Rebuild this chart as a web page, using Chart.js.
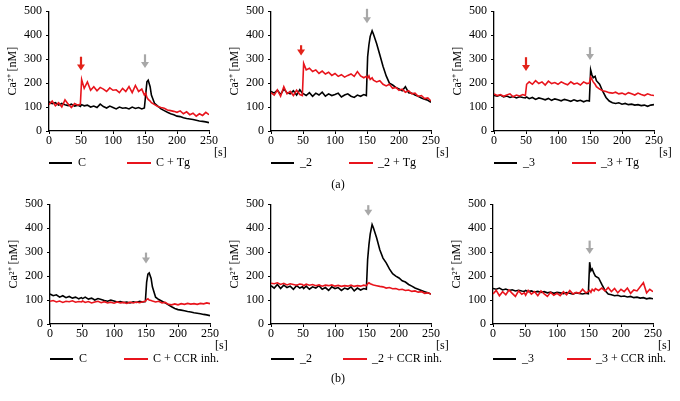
<!DOCTYPE html>
<html>
<head>
<meta charset="utf-8">
<script src="https://cdn.jsdelivr.net/npm/chart.js@4.4.1/dist/chart.umd.min.js"></script>
<style>
  body { margin: 0; background: #fff; }
  #wrap { position: relative; width: 680px; height: 401px; font-family: "Liberation Serif", "Times New Roman", serif; }
  .panel { position: absolute; width: 231px; height: 180px; }
  .cap { position: absolute; font-size: 12px; width: 40px; text-align: center; }
</style>
</head>
<body>
<div id="wrap">
  <div class="panel" style="left:0px;top:0px"><canvas id="p1" width="231" height="180"></canvas></div>
  <div class="panel" style="left:222px;top:0px"><canvas id="p2" width="231" height="180"></canvas></div>
  <div class="panel" style="left:445px;top:0px"><canvas id="p3" width="231" height="180"></canvas></div>
  <div class="panel" style="left:1px;top:193px"><canvas id="p4" width="231" height="180"></canvas></div>
  <div class="panel" style="left:222px;top:193px"><canvas id="p5" width="231" height="180"></canvas></div>
  <div class="panel" style="left:444px;top:193px"><canvas id="p6" width="231" height="180"></canvas></div>
  <div class="cap" style="left:318px;top:177px">(a)</div>
  <div class="cap" style="left:318px;top:371px">(b)</div>
</div>
<script>
// time [s]
const TIME = [0,5,10,15,20,25,30,35,40,45,49,51,55,60,65,70,75,80,85,90,95,100,105,110,115,120,125,130,135,140,145,149,151,153,155,158,160,165,170,175,180,185,190,195,200,205,210,215,220,225,230,235,240,245,250];

// (a) thapsigargin
const C_CTRL = [122,114,118,108,115,110,106,112,104,108,102,110,105,108,100,104,98,112,102,96,104,98,92,100,95,97,92,100,94,98,92,96,150,205,212,185,150,115,104,92,85,78,72,68,62,60,55,52,50,48,45,42,40,38,35];
const C_TG = [110,125,105,118,100,130,112,98,115,108,112,215,178,205,170,185,168,182,175,165,180,170,172,160,178,165,185,160,190,165,175,150,158,140,132,125,118,110,102,98,95,88,85,82,78,84,72,80,68,74,62,72,65,78,68];
const S2_CTRL = [165,158,170,152,175,160,155,168,150,172,158,155,148,160,145,158,150,162,145,155,148,152,158,142,150,155,145,140,150,145,152,148,310,360,395,418,405,365,318,270,230,200,192,182,175,168,185,160,158,150,145,138,132,128,120];
const S2_TG = [160,150,172,145,185,155,165,148,170,152,148,282,255,262,248,255,240,250,238,245,232,240,228,235,225,232,238,228,248,230,222,228,220,230,215,222,212,205,210,195,188,195,178,182,170,175,162,168,155,158,145,148,135,138,125];
const S3_CTRL = [148,145,150,142,146,140,144,138,143,140,138,142,135,140,132,138,135,130,136,128,134,130,126,132,128,124,130,125,128,122,127,125,255,235,222,228,210,195,165,140,125,118,115,118,112,115,110,112,108,110,106,108,103,108,110];
const S3_TG = [155,148,152,145,150,155,143,150,146,152,148,195,205,195,210,198,205,192,208,198,202,195,205,198,193,205,196,200,192,205,198,200,225,215,205,195,185,175,168,165,160,158,162,155,158,152,160,155,150,158,152,148,155,150,148];

// (b) CCR inhibitor
const C_CTRL_B = [125,118,122,112,118,110,115,108,112,105,110,106,112,104,108,100,106,102,98,95,100,96,92,94,90,92,88,93,90,95,92,94,175,208,213,190,155,112,102,95,88,80,72,65,60,58,55,52,50,47,45,43,40,38,35];
const C_CCR = [95,98,92,96,90,95,93,97,91,94,92,96,90,94,88,92,95,89,93,88,91,87,92,88,90,86,91,88,92,89,93,95,102,105,100,98,96,92,95,88,90,82,80,84,80,85,82,86,83,85,82,86,84,88,85];
const S2_CTRL_B = [160,150,165,148,162,152,158,145,160,150,155,148,158,145,155,150,160,145,152,140,155,148,152,140,150,145,155,138,150,142,148,145,270,330,375,415,402,360,310,275,255,230,210,200,192,180,175,165,158,150,145,140,135,130,125];
const S2_CCR = [170,168,172,165,170,163,168,165,162,167,165,160,166,162,165,160,163,158,162,160,163,158,161,157,160,158,162,157,160,158,162,160,168,172,168,165,163,160,157,155,150,152,147,148,143,145,140,142,136,138,133,135,128,130,125];
const S3_CTRL_B = [148,145,150,142,146,140,143,138,141,138,136,140,135,138,133,136,132,135,130,133,128,132,130,127,131,128,125,130,127,125,128,126,258,222,230,210,200,192,165,140,125,122,118,120,115,117,113,115,110,112,108,110,105,108,105];
const S3_CCR = [125,140,118,135,122,142,128,115,138,124,130,120,140,125,135,118,138,126,115,132,120,128,118,135,122,140,125,132,128,145,130,135,140,132,145,138,148,140,150,138,152,135,148,130,145,135,150,128,142,138,155,172,130,145,135];

// arrows: time, top value, tip value
const ARROWS_A1 = [[50, 310, 252, 'red'], [150, 320, 263, 'gray']];
const ARROWS_A2 = [[47, 358, 315, 'red'], [150, 510, 450, 'gray']];
const ARROWS_A3 = [[50, 308, 250, 'red'], [150, 350, 296, 'gray']];
const ARROWS_B1 = [[150, 298, 252, 'gray']];
const ARROWS_B2 = [[152, 496, 452, 'gray']];
const ARROWS_B3 = [[151, 348, 292, 'gray']];

const RED = '#e8141c';
const FONT = '"Liberation Serif", "Times New Roman", serif';

const panelDeco = {
  id: 'panelDeco',
  afterDraw(chart, args, opts) {
    const c = chart.ctx;
    const {left, right, bottom} = chart.chartArea;
    const xs = chart.scales.x, ys = chart.scales.y;
    c.save();
    // arrows
    opts.arrows.forEach(a => {
      const x = xs.getPixelForValue(a[0]);
      const y0 = ys.getPixelForValue(a[1]);
      const y1 = ys.getPixelForValue(a[2]);
      const col = a[3] === 'red' ? '#e2231a' : '#a8a8a8';
      c.strokeStyle = col; c.fillStyle = col; c.lineWidth = 2.2;
      c.beginPath(); c.moveTo(x, y0); c.lineTo(x, y1 - 5); c.stroke();
      c.beginPath(); c.moveTo(x - 4, y1 - 6); c.lineTo(x + 4, y1 - 6); c.lineTo(x, y1); c.closePath(); c.fill();
    });
    // [s]
    c.font = '12px ' + FONT;
    c.fillStyle = '#000';
    c.textBaseline = 'middle';
    c.textAlign = 'left';
    c.fillText('[s]', right + 5, bottom + 22);
    // legend
    const ly = bottom + opts.legendDy;
    c.lineWidth = 2;
    c.strokeStyle = '#000';
    c.beginPath(); c.moveTo(left, ly); c.lineTo(left + 23, ly); c.stroke();
    c.fillText(opts.labels[0], left + 29, ly);
    c.strokeStyle = RED;
    c.beginPath(); c.moveTo(left + opts.redX, ly); c.lineTo(left + opts.redX + 24, ly); c.stroke();
    c.fillText(opts.labels[1], left + opts.redX + 29, ly);
    c.restore();
  }
};

function series(vals) {
  return TIME.map((t, i) => ({x: t, y: vals[i]}));
}

function makePanel(id, black, red, labels, arrows, legendDy, redX) {
  new Chart(document.getElementById(id), {
    type: 'line',
    data: {
      datasets: [
        {data: series(red), borderColor: RED, borderWidth: 1.6},
        {data: series(black), borderColor: '#000', borderWidth: 1.6}
      ]
    },
    options: {
      responsive: false,
      animation: false,
      layout: {padding: {top: 11, right: 22, left: 0, bottom: 0}},
      elements: {point: {radius: 0}, line: {tension: 0}},
      plugins: {
        legend: {display: false},
        tooltip: {enabled: false},
        panelDeco: {labels: labels, arrows: arrows, legendDy: legendDy, redX: redX}
      },
      scales: {
        x: {
          type: 'linear', min: 0, max: 250,
          afterFit: s => { s.height = 49; },
          border: {color: '#000', width: 1.3},
          grid: {display: true, drawOnChartArea: false, drawTicks: true, tickLength: 3, color: '#000'},
          ticks: {stepSize: 50, padding: 0, color: '#000', font: {family: FONT, size: 12}, maxRotation: 0}
        },
        y: {
          min: 0, max: 500,
          afterFit: s => { s.width = 49; },
          border: {color: '#000', width: 1.3},
          grid: {display: true, drawOnChartArea: false, drawTicks: true, tickLength: 3, color: '#000'},
          ticks: {stepSize: 100, padding: 4, color: '#000', font: {family: FONT, size: 12}},
          title: {display: true, text: 'Ca²⁺ [nM]', color: '#000', font: {family: FONT, size: 12}, padding: {top: 6, bottom: 0}}
        }
      }
    },
    plugins: [panelDeco]
  });
}

makePanel('p1', C_CTRL, C_TG, ['C', 'C + Tg'], ARROWS_A1, 32, 78);
makePanel('p2', S2_CTRL, S2_TG, ['_2', '_2 + Tg'], ARROWS_A2, 32, 78);
makePanel('p3', S3_CTRL, S3_TG, ['_3', '_3 + Tg'], ARROWS_A3, 32, 78);
makePanel('p4', C_CTRL_B, C_CCR, ['C', 'C + CCR inh.'], ARROWS_B1, 35, 74);
makePanel('p5', S2_CTRL_B, S2_CCR, ['_2', '_2 + CCR inh.'], ARROWS_B2, 35, 72);
makePanel('p6', S3_CTRL_B, S3_CCR, ['_3', '_3 + CCR inh.'], ARROWS_B3, 35, 74);
</script>
</body>
</html>
